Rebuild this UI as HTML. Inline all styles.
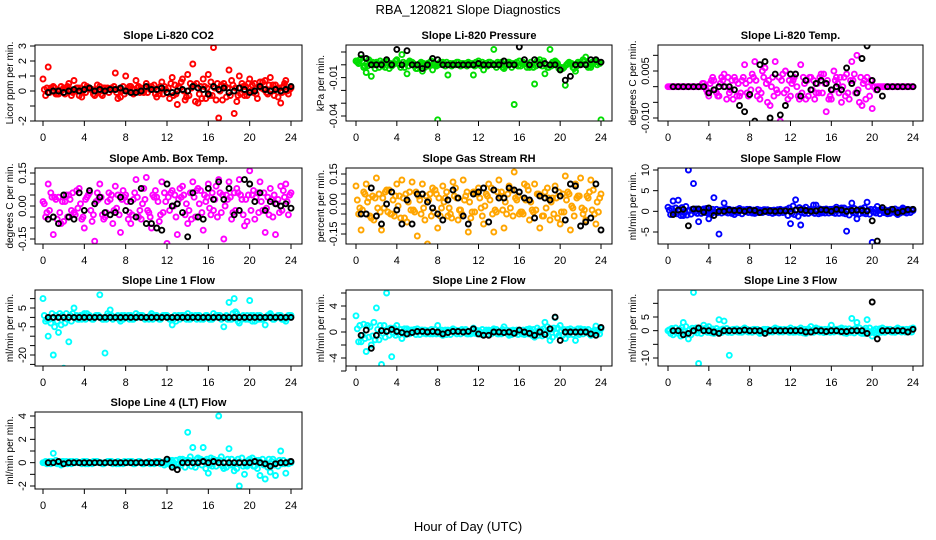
<!DOCTYPE html>
<html><head><meta charset="utf-8">
<style>
html,body{margin:0;padding:0;background:#fff;}
svg{display:block;font-family:"Liberation Sans",sans-serif;}
</style></head>
<body>
<svg id="chart" width="936" height="540" viewBox="0 0 936 540" xmlns="http://www.w3.org/2000/svg">
<text x="468" y="14" text-anchor="middle" font-size="13">RBA_120821  Slope Diagnostics</text>
<text x="468" y="531" text-anchor="middle" font-size="13">Hour of Day (UTC)</text>
</svg>
<script>
const xTicks = [0,4,8,12,16,20,24];

const co2Col1 = [0.8,1.6,0.3,-0.2,0.2,0.5,0.7,-0.3,0.4,0.2,-0.3,0.3,0.2,0.1,1.2,-0.4,1.0,0.3,0.7,0.2,0.5,0.3,-0.4,0.6,-0.1,0.9,-0.9,0.8,1.1,1.8,-0.8,0.8,1.1,2.9,-1.8,0.5,1.4,-1.5,1.0,-0.3,0.8,0.5,0.6,0.7,0.9,0.4,-0.8,0.7,0.2];
const co2Col2 = [-0.3,0.2,-0.2,0.3,0.1,-0.3,0.2,-0.4,0.3,0.1,0.4,-0.3,0.2,0.1,-0.5,0.3,0.2,-0.2,0.3,-0.1,0.2,0.4,-0.2,0.3,-0.5,0.4,0.2,-0.6,0.5,-0.7,0.3,-0.5,0.6,-0.6,0.4,-0.4,0.7,-0.7,0.5,-0.3,0.4,-0.5,0.6,-0.2,0.4,-0.4,0.3,-0.2];
const co2Col3 = [0.1,-0.1,0.2,0,-0.2,0.1,0,0.2,-0.1,0.1,0,-0.2,0.1,0.2,-0.1,0,0.1,-0.1,0.2,0,-0.1,0.1,0,-0.2,0.2,-0.3,0.3,0,-0.3,0.4,-0.2,0.3,-0.3,0.2,0,0.3,-0.3,0.2,-0.2,0.3,0,-0.2,0.2,-0.1,0.1,0.2,-0.1,0];
const co2Col4 = [0.2,0,-0.2,0.1,0.3,-0.1,0.2,0,0.2,-0.2,0.1,0.2,-0.1,0.3,0.1,-0.2,0.3,0.1,-0.1,0.2,0.1,-0.2,0.3,0.1,0.5,-0.2,0.6,-0.4,0.2,0.5,-0.5,0.2,-0.3,0.5,-0.6,0.2,0.4,-0.3,0.3,0.5,-0.1,0.3,0.1,0.4,-0.3,0.2,0.5,0.1];
const co2Blk = [-0.1,0,0,-0.1,0,0.1,0,0.1,0.2,0,0.1,0,0.1,0.1,0.2,0,-0.1,-0.1,0,0.3,0.1,0.1,0.2,-0.1,-0.1,0,0.1,0,0.3,0.2,0.1,-0.2,0.3,0.1,0.2,-0.1,0,0.2,0.1,-0.1,0,0.3,0.1,0,0.1,0,0.1,0.3];

const presCol1 = [0.003,0.005,-0.006,-0.009,0.002,0.001,0.003,-0.001,0.004,0.008,-0.007,0.002,-0.003,-0.005,0.001,-0.004,-0.043,0.002,-0.008,0.001,0.002,0.001,0.002,-0.008,0.003,-0.004,0.002,0.012,0.001,-0.003,0.002,-0.031,0.003,0.001,-0.002,-0.015,0.004,-0.007,0.012,0.003,-0.004,-0.016,0.001,-0.005,0.002,0.006,-0.002,0.003,-0.043];
const presCol2 = [0.001,-0.002,0.004,0,-0.002,0.002,-0.003,0.001,0,-0.002,0.003,-0.001,0.001,-0.002,0.002,0,0.002,-0.001,0.001,0,-0.001,0.001,0,0.002,-0.001,0.001,0,-0.002,0.002,0,-0.002,0.002,0.001,-0.002,0,0.003,-0.001,-0.002,0.002,0.001,-0.003,0.001,-0.002,0.002,0.004,-0.002,0.001,0.002];
const presCol3 = [0.002,0.003,-0.001,0.002,0.001,-0.001,0.002,0,0.001,0.002,-0.001,0.001,0,0.001,-0.001,0.001,0,0.001,0,0.001,0,0,0.001,-0.001,0,0.001,0.002,0,0.001,-0.001,0.001,0,-0.001,0.001,0.002,-0.001,0.001,0,-0.001,0.002,-0.002,0,0.001,-0.001,0.001,0,0.002,0];
const presCol4 = [0.004,-0.001,0.002,-0.003,0.003,-0.002,0.001,0.003,-0.002,0.001,0.002,-0.003,0.002,0,0.003,-0.001,0.001,0.002,-0.001,0.002,0.001,-0.001,0.001,0,0.002,-0.001,0.001,0.002,-0.002,0.002,0.001,-0.001,0.002,0,-0.002,0.002,0.003,-0.002,0.001,-0.003,-0.002,0.002,-0.003,0.001,0.003,-0.001,0.002,0.001];
const presBlk = [0.008,0.005,0,0,0,0.004,0,0.012,0,0.011,0,0,-0.003,0,0.005,0.004,0,0,0,0,0,0,0,0.001,0,0,0,0,0.003,0,0,0.014,0.004,0,0.004,0,0.001,0,0,-0.004,-0.012,-0.009,0,0,0,0.004,0.004,0.002];

const tempCol1 = [0,0,0,0,0,0,0,0.001,-0.003,0.002,-0.003,0.004,-0.002,0.003,-0.003,0.007,0.002,0.008,-0.004,0.006,-0.006,0.008,-0.011,0.005,-0.003,0.004,0.007,-0.004,0.003,-0.002,0.004,-0.008,-0.004,0.003,-0.005,0.004,0.008,0.010,-0.006,0.003,-0.007,0,0,0,0,0,0,0,0];
const tempCol2 = [0,0,0,0,0,0,0,-0.001,0.002,-0.002,0.003,-0.004,0.002,-0.003,0.002,-0.002,0.004,-0.003,0.005,-0.005,0.003,-0.002,0.004,-0.004,0.002,-0.003,0.003,-0.003,0.002,-0.002,0.004,-0.004,0.005,-0.002,0.003,-0.004,0.004,-0.005,0.002,-0.003,0,0,0,0,0,0,0,0];
const tempCol3 = [0,0,0,0,0,0,0,0,0.001,-0.001,0.001,0,-0.001,0.002,-0.002,0.001,-0.001,0.002,-0.002,0.001,0,-0.001,0.002,-0.001,0.001,0,-0.002,0.002,-0.001,0.001,-0.002,0.002,-0.001,0.001,0,-0.002,0.002,-0.001,0.001,0,0,0,0,0,0,0,0,0];
const tempCol4 = [0,0,0,0,0,0,0.001,-0.002,0.003,-0.003,0.002,0.003,-0.004,0.001,0.003,-0.003,0.003,-0.001,0.003,0.002,-0.003,0.003,-0.002,0.002,0.003,-0.004,0.001,0.003,-0.004,0.003,0.001,-0.003,0.002,0.003,-0.003,0.002,-0.002,0.003,-0.004,0.002,-0.001,0,0,0,0,0,0,0];
const tempBlk = [0,0,0,0,0,0,0,-0.002,-0.001,0,0,0,-0.001,-0.006,-0.008,-0.0025,-0.011,0.007,0.008,-0.010,0.004,-0.009,-0.006,0.004,0.004,-0.003,0.002,-0.001,0.001,0.002,0.001,-0.001,0,-0.001,0.006,0.001,-0.002,0.009,0.013,0.002,-0.001,-0.003,0,0,0,0,0,0];

const ambCol1 = [0.02,0.1,-0.13,0.04,-0.07,0.05,-0.03,0.08,-0.1,0.06,-0.16,0.1,-0.05,0.03,0.09,-0.12,0.05,-0.08,0.12,-0.06,0.13,-0.1,0.04,0.11,-0.17,0.07,-0.13,0.09,-0.08,0.11,0.08,-0.11,0.1,-0.02,0.12,-0.15,0.11,0.06,0.12,-0.09,0.16,-0.06,0.11,-0.12,0.08,-0.13,0.09,0.1,0.06];
const ambCol2 = [-0.05,0.06,0.03,-0.08,0.05,-0.02,0.07,-0.06,0.04,-0.07,0.06,-0.04,0.02,-0.08,0.05,0.07,-0.06,0.03,-0.05,0.08,-0.03,0.04,-0.07,0.06,-0.02,0.05,0.08,-0.04,0.06,-0.05,0.07,0.02,-0.04,0.09,-0.03,0.05,-0.06,0.08,0.03,-0.07,0.05,0.06,-0.02,0.04,-0.05,0.03,0.07,-0.04];
const ambCol3 = [0.01,-0.02,0.04,-0.03,0.02,0.03,-0.04,0.01,0.03,-0.02,0.02,0.04,-0.03,0.05,-0.01,0.03,0.02,-0.04,0.04,0.01,-0.02,0.05,0.02,-0.03,0.04,0,0.03,0.05,-0.02,0.04,0.01,0.05,-0.01,0.03,0.06,0,0.04,-0.02,0.05,0.03,-0.02,0.04,0.02,-0.01,0.03,0.01,-0.02,0.02];
const ambCol4 = [-0.03,0.04,-0.06,0.02,-0.05,0.06,-0.01,-0.05,0.05,-0.04,0.03,-0.06,0.06,-0.02,-0.04,0.04,-0.03,0.06,-0.02,0.03,-0.05,0.07,-0.04,0.02,0.06,-0.05,0.04,0.01,-0.06,0.07,-0.03,0.04,0.06,-0.05,0.05,0.03,-0.03,0.06,-0.04,0.05,0.07,-0.03,0.06,-0.04,0.05,-0.03,0.04,0.05];
const ambBlk = [-0.06,-0.05,-0.08,0.05,-0.05,-0.06,0.06,-0.02,0.07,0.01,0.04,-0.03,-0.04,-0.03,0.04,-0.02,0.02,-0.05,0.08,-0.08,-0.08,-0.1,-0.11,0.10,0,0.01,-0.03,-0.14,0.06,-0.05,-0.06,0.08,0.03,0.11,0.03,0.08,-0.04,-0.02,0.12,0.1,0.02,0.06,-0.02,0.02,0.01,0,0.01,-0.01];

const rhCol1 = [0.09,-0.13,0.1,-0.07,0.13,-0.13,0.07,-0.05,0.1,0.12,-0.09,0.11,-0.16,0.1,-0.2,0.08,-0.12,0.09,-0.06,0.11,-0.08,0.12,-0.14,0.06,0.08,-0.1,0.1,-0.14,0.12,-0.12,0.09,0.16,-0.05,0.1,-0.08,0.1,-0.12,0.06,-0.08,0.09,-0.1,0.14,-0.13,0.1,0.13,-0.08,0.12,-0.1,0.05];
const rhCol2 = [-0.05,0.06,0.03,-0.08,0.05,-0.02,0.07,-0.06,0.04,-0.07,0.06,-0.04,0.02,-0.08,0.05,0.07,-0.06,0.03,-0.05,0.08,-0.03,0.04,-0.07,0.06,-0.02,0.05,0.08,-0.04,0.06,-0.05,0.07,0.02,-0.04,0.09,-0.03,0.05,-0.06,0.08,0.03,-0.07,0.05,0.06,-0.02,0.04,-0.05,0.03,0.07,-0.04];
const rhCol3 = [0.02,-0.03,0.01,0.04,-0.02,0.03,-0.04,0.02,-0.01,0.03,0.01,-0.03,0.04,-0.02,0.02,-0.04,0.03,0.01,-0.02,0.04,-0.03,0.02,0.01,-0.04,0.03,-0.01,0.02,-0.03,0.04,0.01,-0.02,0.03,-0.04,0.02,0.01,-0.03,0.04,-0.02,0.01,0.03,-0.04,0.02,-0.01,0.03,-0.02,0.04,-0.03,0.01];
const rhCol4 = [-0.02,0.05,-0.06,0.03,-0.04,0.06,-0.05,0.04,-0.07,0.05,-0.03,0.06,-0.05,0.04,-0.06,0.05,-0.02,0.06,-0.07,0.03,-0.05,0.06,-0.04,0.05,-0.06,0.04,-0.05,0.06,-0.03,0.05,-0.06,0.04,-0.05,0.07,-0.04,0.05,-0.06,0.03,-0.05,0.06,-0.04,0.05,-0.06,0.04,-0.03,0.06,-0.05,0.03];
const rhBlk = [-0.05,-0.05,0.08,-0.06,-0.1,0,0.06,-0.03,-0.1,0.02,-0.1,0.05,0.05,0.01,-0.02,-0.05,-0.08,0.02,0.07,0.03,-0.06,-0.1,0.05,0.06,0.08,-0.09,0.07,0.03,0.03,0.08,0.07,0.06,0.03,0.02,-0.07,0.04,0.03,0.02,0.07,0.04,-0.08,0.1,0.09,-0.11,-0.09,-0.07,0.1,-0.13];

const sampCol1 = [1,2.5,2.7,-1,10,6.7,-2.5,0.6,-1.8,3.3,-5.5,2,0.5,-0.8,0.7,0.3,0.5,-0.5,0.3,0.4,0.2,-0.3,0.5,0.3,-3,2.8,-3.3,1,0.5,1.5,-0.4,0.6,0.5,1,0.8,-4.8,2,-1.8,0.6,2.2,-7.5,1.2,0.3,-0.6,0.4,-0.8,0.8,0.5,0.2];
const sampCol2 = [-0.8,0.8,-1,1.2,-0.7,0.6,-0.5,0.7,-0.6,0.5,-0.4,0.6,-0.5,0.4,-0.6,0.5,-0.4,0.5,-0.3,0.4,-0.5,0.4,-0.3,-1,1.3,-1.2,0.6,-0.5,1.5,-0.6,0.5,-0.4,0.6,-0.5,0.8,-0.9,0.7,-0.6,0.9,-0.7,0.5,-0.6,0.4,-0.5,0.6,-0.4,0.5,-0.3];
const sampCol3 = [0.3,-0.4,0.5,-0.3,0.2,-0.2,0.3,-0.3,0.2,-0.2,0.3,-0.2,0.1,-0.2,0.2,-0.1,0.2,-0.2,0.1,-0.1,0.2,-0.1,0.1,0.5,-0.5,0.4,-0.3,0.2,-0.2,0.3,-0.2,0.2,-0.3,0.3,-0.4,0.4,-0.3,0.3,-0.4,0.3,-0.2,0.2,-0.3,0.2,-0.2,0.3,-0.2,0.2];
const sampCol4 = [0.6,-0.6,0.9,-0.9,0.5,-0.5,0.4,-0.4,0.5,-0.3,0.4,-0.4,0.3,-0.3,0.4,-0.3,0.3,-0.3,0.4,-0.3,0.3,-0.4,0.3,0.8,-0.8,0.9,-0.5,0.4,-0.5,0.6,-0.4,0.5,-0.5,0.6,-0.6,0.6,-0.5,0.6,-0.6,0.5,-0.4,0.5,-0.4,0.5,-0.5,0.4,-0.4,0.4];
const sampBlk = [-0.8,0.3,0.5,-3.5,0.6,0.6,-0.2,0.8,-1,0,0,0.3,0.2,0.2,0,0.3,0.2,-0.3,0,0.1,0,0.1,0.1,0,0.3,0.4,0.2,0,0.1,0.4,0.3,0,0.5,0.3,0,0.2,0.3,0.2,0.1,-2.3,-7.2,0.9,-0.1,0.5,-0.3,0,0.4,0.5];

const l1Col1 = [10,-10,-20,-8,-27,-13,5,-1,2,1,0,12,-19,4,0,-2,0,1,2,1,0,2,1,0,1,-4,0,1,2,0,1,-1,0,2,1,-5,8,10,-3,0,9,-2,1,-4,2,0,1,-2,1];
const l1Col2 = [-2,-3,1,-4,2,-2,1,-1,2,-1,1,-1,2,-1,1,-1,1,-1,1,0,-1,1,-1,1,-1,1,-1,1,-1,1,-1,1,-1,1,-1,1,-1,2,-1,1,-2,1,-1,1,-1,1,-1,1];
const l1Col3 = [1,-1,-5,2,-3,1,0,1,-1,0,1,0,-1,1,0,1,0,-1,0,1,0,-1,0,1,0,-1,1,0,-1,0,1,0,-1,0,1,0,-1,3,0,-1,1,0,-1,0,1,0,-1,0];
const l1Col4 = [-1,2,-2,1,-1,2,-1,1,0,-1,1,-1,1,0,-1,1,-1,0,1,-1,1,0,-1,1,0,-2,1,-1,1,-1,0,1,-1,1,0,-1,2,-2,1,-1,1,-1,0,1,-1,1,-1,1];
const l1Blk = [0,0,0,0,0,0,0,0,0,0,0,0,0,0,0,0,0,0,0,0,0,0,0,0,0,0,0,0,0,0,0,0,0,0,0,0,0,0,0,0,0,0,0,0,0,0,0,0];

const l2Col1 = [2.5,-1.5,-3,-2,3.7,-5,6,-3.8,1,-1,0.5,0.3,0.5,0.3,0.2,-0.3,1,-0.5,0.3,0.5,0.2,0.3,-0.3,0.6,0.2,-0.4,0.3,0.5,-0.3,0.8,-0.5,0.2,0.3,-0.4,0.5,-0.8,0.3,1.5,-1.3,2.2,1,-1,0.5,-1.3,0.5,0.3,-0.5,0.9,0.5];
const l2Col2 = [-1.5,1.2,-0.8,1.5,-1.2,1,-0.5,0.6,-0.4,0.5,-0.3,0.4,-0.4,0.3,-0.3,0.4,-0.3,0.3,-0.4,0.3,-0.3,0.4,-0.3,0.3,-0.4,0.3,-0.3,0.4,-0.3,0.3,-0.4,0.3,-0.3,0.4,-0.5,0.6,-0.6,0.8,-0.8,0.6,-0.5,0.4,-0.4,0.5,-0.3,0.4,-0.3,0.3];
const l2Col3 = [0.5,-0.5,1,-0.6,0.4,-0.2,0.2,-0.2,0.1,-0.1,0.2,-0.1,0.1,-0.2,0.1,-0.1,0.2,-0.1,0.1,-0.1,0.2,-0.1,0.1,-0.2,0.1,-0.1,0.2,-0.1,0.1,-0.1,0.2,-0.2,0.1,-0.1,0.2,-0.3,0.3,-0.3,0.4,-0.2,0.2,-0.2,0.1,-0.2,0.2,-0.1,0.1,-0.1];
const l2Col4 = [1,-1,0.8,-1.2,1,-0.8,0.6,-0.5,0.4,-0.4,0.3,-0.4,0.3,-0.3,0.4,-0.3,0.3,-0.4,0.3,-0.3,0.4,-0.3,0.3,-0.3,0.4,-0.4,0.3,-0.3,0.4,-0.3,0.3,-0.4,0.3,-0.3,0.4,-0.5,0.5,-0.6,0.6,-0.5,0.4,-0.4,0.3,-0.4,0.4,-0.3,0.3,-0.3];
const l2Blk = [-0.5,0.3,-2.5,-0.5,0.2,0.1,0.4,0.1,-0.1,-0.3,-0.1,0.1,0.1,0,0.1,0,-0.3,-0.1,0.1,0.1,0,0.1,0.5,-0.3,-0.5,-0.5,0,0,-0.1,0,-0.2,0.3,0,-0.2,-0.5,0,-0.4,0.5,2.3,-1.3,0,0,0,0,0,-0.3,-0.5,0.7];

const l3Col1 = [0,-1.5,-1,3,-3,14,-12,2,1.5,-1,4,3.5,-9,0.5,-0.5,1,0,0.5,-1,0.5,0,1,0.5,0,1,-0.5,1,-1,1.5,1,0.5,-0.5,2,0.5,1,-1,4.5,3,-1,4,-2,-1,1,0.5,-0.5,1,0.5,-0.5,1];
const l3Col2 = [-1,1,-2,1.5,-1.5,1,-1,1,-0.8,0.8,-0.7,0.8,-0.7,0.6,-0.6,0.5,-0.6,0.5,-0.6,0.5,-0.5,0.6,-0.5,0.5,-0.6,0.5,-0.8,0.7,-0.6,0.6,-0.7,0.6,-0.5,0.6,-0.8,0.7,-0.8,1,-1,1,-0.8,0.7,-0.6,0.5,-0.6,0.5,-0.5,0.6];
const l3Col3 = [0.3,-0.3,0.5,-0.5,0.4,-0.3,0.3,-0.2,0.2,-0.2,0.3,-0.2,0.2,-0.2,0.2,-0.1,0.2,-0.2,0.1,-0.2,0.2,-0.1,0.2,-0.2,0.1,-0.2,0.2,-0.2,0.1,-0.2,0.2,-0.1,0.2,-0.2,0.3,-0.2,0.3,-0.3,0.4,-0.3,0.2,-0.2,0.2,-0.1,0.2,-0.2,0.1,-0.2];
const l3Col4 = [0.8,-0.8,1.2,-1,0.9,-0.8,0.7,-0.6,0.6,-0.5,0.6,-0.6,0.5,-0.5,0.6,-0.5,0.5,-0.6,0.5,-0.5,0.6,-0.5,0.5,-0.6,0.5,-0.6,0.5,-0.5,0.6,-0.5,0.5,-0.6,0.5,-0.5,0.7,-0.6,0.8,-0.8,0.9,-0.7,0.6,-0.6,0.5,-0.5,0.6,-0.5,0.5,-0.5];
const l3Blk = [0,0,-1.5,-1,0,1,0,0,-0.5,-1,0,0,0,0,0.2,0,0,0,-1,0,0,0,0,0,0,0,-0.5,-0.5,0,0,-0.3,0,0,-0.3,-0.3,0,0,0,-1,10.5,-3,0,0,0,0,0,-0.5,0.5];

const l4Col1 = [0,0,0.8,0,0.1,0,0,0,0.1,0,0,0,0,0.1,0,0,0,0.1,0,0,0,0,0.1,0,-0.1,0.2,-0.2,0.3,2.6,1.3,0.4,1.3,-0.9,0.3,4,-0.5,1.2,-0.7,-2,-1,0.3,-0.3,-1.1,-1.4,-0.8,-1.1,1,-0.9,0];
const l4Col2 = [0.1,-0.1,0.2,-0.2,0.1,-0.1,0.1,-0.1,0.1,-0.1,0.1,-0.1,0.1,-0.1,0.1,-0.1,0.1,-0.1,0.1,-0.1,0.1,-0.1,0.1,-0.2,0.2,-0.3,0.3,-0.4,0.5,-0.4,0.3,-0.5,0.4,-0.3,0.5,-0.4,0.3,-0.5,0.4,-0.3,0.4,-0.5,0.3,-0.4,0.3,-0.3,0.2,-0.1];
const l4Col3 = [0,0.1,0,-0.1,0,0.1,0,0,-0.1,0,0.1,0,0,0.1,-0.1,0,0,0.1,0,-0.1,0,0,0.1,0,0.1,0,-0.1,0.1,0.2,-0.1,0.1,0.2,-0.2,0.1,0.2,0,-0.2,0.1,0,-0.2,0.1,0.2,0,-0.1,0.1,0,-0.1,0];
const l4Col4 = [-0.1,0.1,-0.1,0.1,-0.1,0.1,0,0.1,-0.1,0.1,0,-0.1,0.1,0,-0.1,0.1,0,-0.1,0.1,0,-0.1,0.1,-0.1,0.1,-0.2,0.2,-0.2,0.2,-0.3,0.3,-0.2,0.3,-0.3,0.2,-0.3,0.3,-0.2,0.3,-0.3,0.2,-0.3,0.2,-0.2,0.3,-0.2,0.2,-0.1,0.1];
const l4Blk = [0,0,0.1,-0.1,0,0,0,0,0,0,0,0,0,0,0,0,0,0,0,0,0,0,0,0.3,-0.4,-0.6,0,0,0,0,0.1,0,0.1,0,0,0,0,0,0,0,0.1,0,-0.1,-0.3,-0.1,0,0,0.1];

const panelTitles = ["Slope Li-820 CO2","Slope Li-820 Pressure","Slope Li-820 Temp.","Slope Amb. Box Temp.","Slope Gas Stream RH","Slope Sample Flow","Slope Line 1 Flow","Slope Line 2 Flow","Slope Line 3 Flow","Slope Line 4 (LT) Flow"];
const yTitles = ["Licor ppm per min.","kPa per min.","degrees C per min.","degrees C per min.","percent per min.","ml/min per min.","ml/min per min.","ml/min per min.","ml/min per min.","ml/min per min."];
const yTickVals = [[-2,-1,0,1,2,3],[0.01,0,-0.01,-0.02,-0.03,-0.04],[0.01,0.005,0,-0.005,-0.01],[0.15,0.1,0.05,0,-0.05,-0.1,-0.15],[0.15,0.1,0.05,0,-0.05,-0.1,-0.15],[10,5,0,-5],[10,5,0,-5,-10,-15,-20,-25],[6,4,2,0,-2,-4,-6],[10,5,0,-5,-10],[4,3,2,1,0,-1,-2]];
const yTickLabels = [["-2","","0","1","2","3"],["","","-0.01","","","-0.04"],["","0.005","","","-0.010"],["0.15","","","0.00","","","-0.15"],["0.15","","","0.00","","","-0.15"],["10","5","0","-5"],["","5","","-5","","","-20",""],["","4","","0","","-4",""],["","5","0","","-10"],["4","","2","","0","","-2"]];
const colColors = ["#ff0000","#00dd00","#ff00ff","#ff00ff","#ffa500","#0000ff","#00ffff","#00ffff","#00ffff","#00ffff"];
const colSeries = [[co2Col1,co2Col2,co2Col3,co2Col4],[presCol1,presCol2,presCol3,presCol4],[tempCol1,tempCol2,tempCol3,tempCol4],[ambCol1,ambCol2,ambCol3,ambCol4],[rhCol1,rhCol2,rhCol3,rhCol4],[sampCol1,sampCol2,sampCol3,sampCol4],[l1Col1,l1Col2,l1Col3,l1Col4],[l2Col1,l2Col2,l2Col3,l2Col4],[l3Col1,l3Col2,l3Col3,l3Col4],[l4Col1,l4Col2,l4Col3,l4Col4]];
const blkSeries = [co2Blk,presBlk,tempBlk,ambBlk,rhBlk,sampBlk,l1Blk,l2Blk,l3Blk,l4Blk];

// layout (pixels)
const colBox = [{l:35,r:302,x0:43,x24:291},{l:346,r:612,x0:356,x24:601},{l:658,r:923,x0:668,x24:913}];
const rowBox = [{t:45,b:121},{t:168,b:244},{t:290,b:366},{t:412,b:489}];
const yRef = [[3,46,-2,121],[0.01,52,-0.04,116],[0.005,71,-0.010,118],[0.15,173,-0.15,239],[0.15,174,-0.15,234],[10,170,-5,232],[5,308,-20,355],[4,306,-4,358],[5,317,-10,358],[4,416,-2,486]];
const seriesOffsets = [0, 0.5, 0.25, 0.75];

const NS = "http://www.w3.org/2000/svg";
const svg = document.getElementById("chart");
function mk(tag, attrs, parent){
  const e = document.createElementNS(NS, tag);
  for (const k in attrs) e.setAttribute(k, attrs[k]);
  (parent||svg).appendChild(e);
  return e;
}

for (let p = 0; p < 10; p++) {
  const cb = colBox[p % 3], rb = rowBox[Math.floor(p / 3)];
  const ref = yRef[p];
  const xs = v => cb.x0 + (v / 24) * (cb.x24 - cb.x0);
  const ys = v => ref[1] + (v - ref[0]) * (ref[3] - ref[1]) / (ref[2] - ref[0]);
  const g = mk("g", {});
  
  
  const clipId = "clip" + p;
  const cp = mk("clipPath", {id: clipId}, g);
  mk("rect", {x: cb.l, y: rb.t, width: cb.r - cb.l, height: rb.b - rb.t}, cp);

  const title = mk("text", {x: (cb.l + cb.r) / 2, y: rb.t - 6, "text-anchor": "middle", "font-size": "11", "font-weight": "bold"}, g);
  
  
  title.textContent = panelTitles[p];

  const pts = mk("g", {"clip-path": "url(#" + clipId + ")", fill: "none", "stroke-width": "1.9"}, g);
  
  
  colSeries[p].forEach((arr, si) => {
    const n = arr.length;
    arr.forEach((v, i) => {
      const t = si === 0 ? i * 24 / (n - 1) : (i + seriesOffsets[si]) * 24 / n;
      const c = mk("circle", {cx: xs(t).toFixed(1), cy: ys(v).toFixed(1), r: 2.5, stroke: colColors[p]}, pts);
      
      
    });
  });
  const bn = blkSeries[p].length;
  blkSeries[p].forEach((v, i) => {
    const t = 0.5 + i * 23.5 / (bn - 1);
    const c = mk("circle", {cx: xs(t).toFixed(1), cy: ys(v).toFixed(1), r: 2.5, stroke: "#000"}, pts);
    
    
  });

  const box = mk("rect", {x: cb.l, y: rb.t, width: cb.r - cb.l, height: rb.b - rb.t, fill: "none", stroke: "#000", "stroke-width": "1"}, g);
  
  

  const xa = mk("g", {stroke: "#000", "stroke-width": "1"}, g);
  
  
  mk("line", {x1: xs(xTicks[0]), x2: xs(xTicks[xTicks.length - 1]), y1: rb.b, y2: rb.b}, xa);
  xTicks.forEach(v => {
    mk("line", {x1: xs(v), x2: xs(v), y1: rb.b, y2: rb.b + 5}, xa);
    const tl = mk("text", {x: xs(v), y: rb.b + 20, "text-anchor": "middle", "font-size": "11", stroke: "none"}, xa);
    
    
    tl.textContent = v;
  });

  const ya = mk("g", {stroke: "#000", "stroke-width": "1"}, g);
  
  
  const tv = yTickVals[p];
  const yp = tv.map(ys);
  mk("line", {x1: cb.l, x2: cb.l, y1: Math.min(...yp), y2: Math.max(...yp)}, ya);
  tv.forEach((v, i) => {
    mk("line", {x1: cb.l - 5, x2: cb.l, y1: ys(v), y2: ys(v)}, ya);
    const lab = yTickLabels[p][i];
    if (lab) {
      const tx = cb.l - 9;
      const tl = mk("text", {x: tx, y: ys(v), "text-anchor": "middle", "font-size": "11", stroke: "none", transform: "rotate(-90 " + tx + " " + ys(v) + ")"}, ya);
      
      
      tl.textContent = lab;
    }
  });
  const yc = (rb.t + rb.b) / 2, ytx = cb.l - 22;
  const yt = mk("text", {x: ytx, y: yc, "text-anchor": "middle", "font-size": "10", transform: "rotate(-90 " + ytx + " " + yc + ")"}, g);
  
  
  yt.textContent = yTitles[p];
}
</script>
</body></html>
